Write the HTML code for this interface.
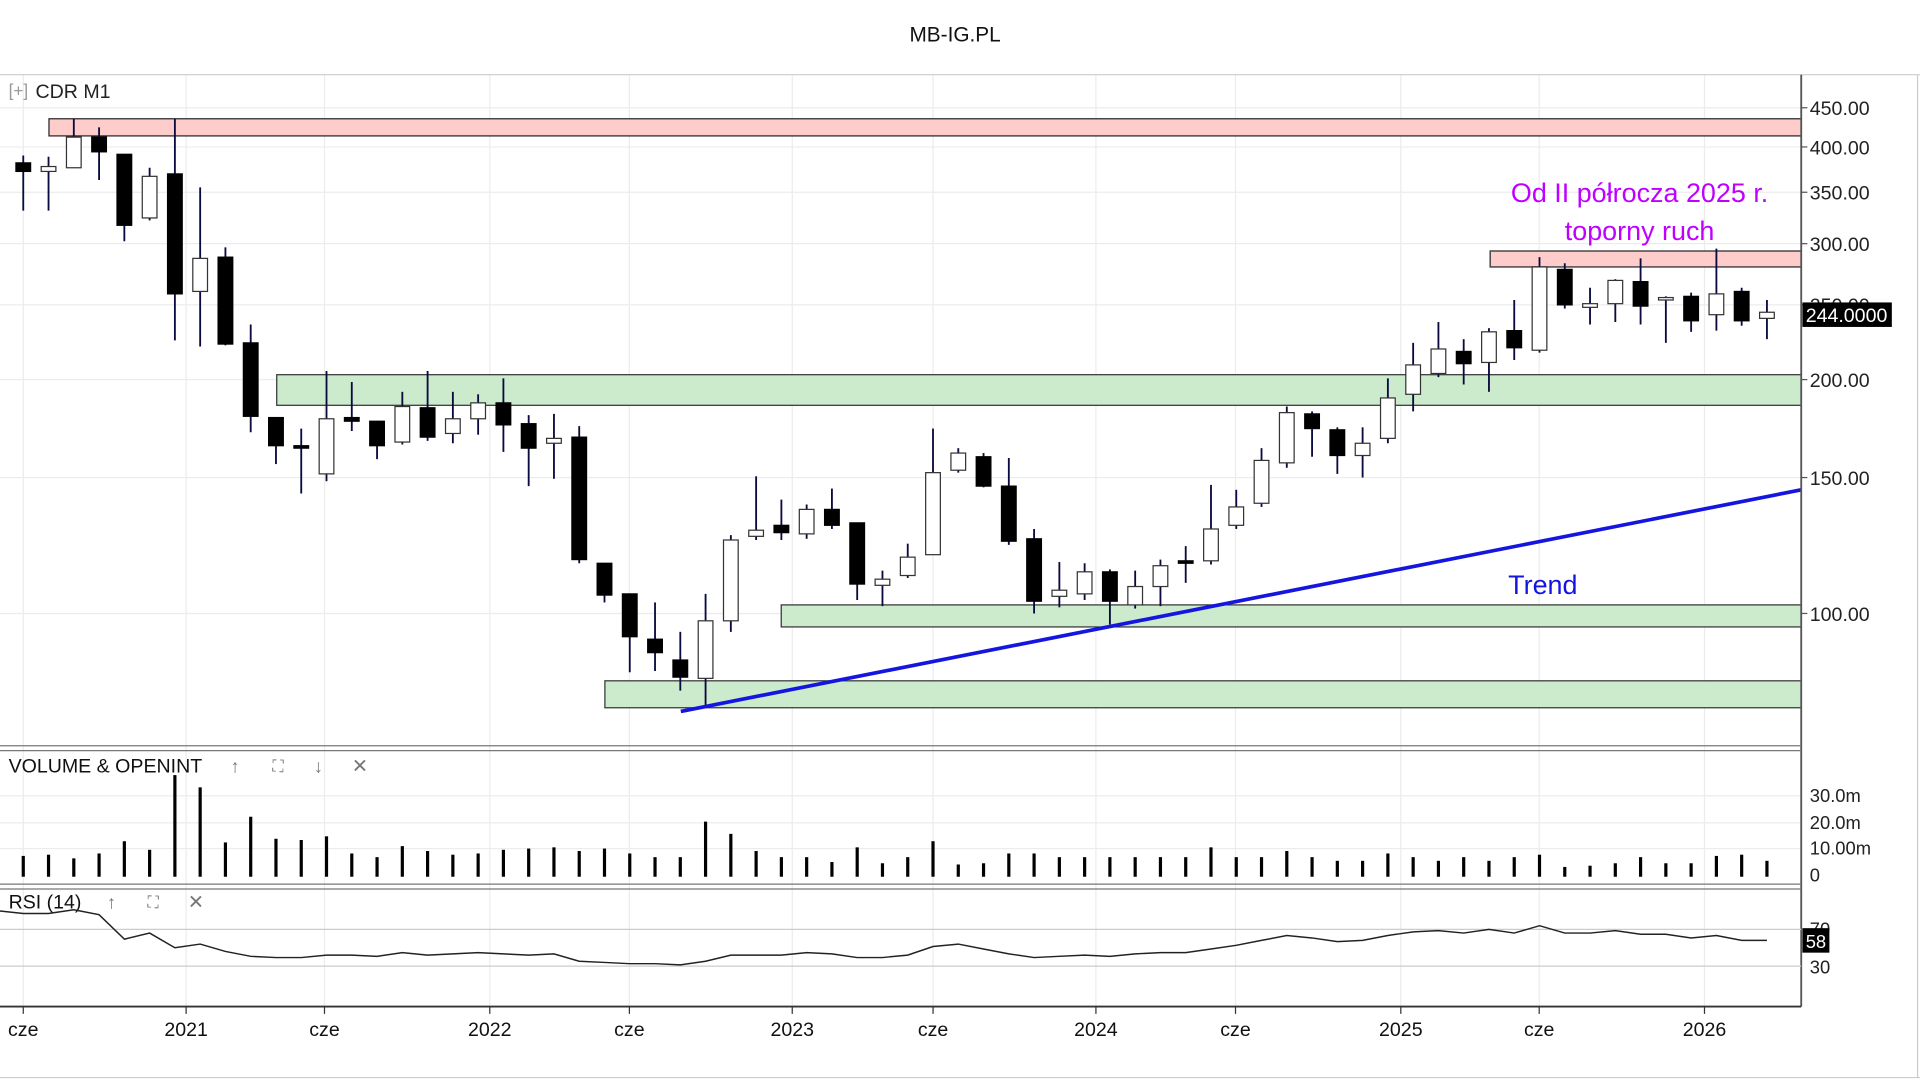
<!DOCTYPE html>
<html><head><meta charset="utf-8"><style>
html,body{margin:0;padding:0;background:#fff;overflow:hidden}
svg{display:block}
text{font-family:"Liberation Sans",Arial,sans-serif}
</style></head><body>
<svg id="s" width="1920" height="1080" viewBox="0 0 1568 882" xmlns="http://www.w3.org/2000/svg">
<rect width="1568" height="882" fill="#fff"/>
<text x="780" y="34" font-size="17" text-anchor="middle" fill="#111">MB-IG.PL</text>
<g id="grid" stroke="#ececec" stroke-width="1"></g>
<!-- frame -->
<line x1="0" y1="61" x2="1568" y2="61" stroke="#ccc"/>
<line x1="1566" y1="61" x2="1566" y2="880" stroke="#ccc"/>
<line x1="0" y1="880" x2="1568" y2="880" stroke="#ccc"/>
<!-- zones -->
<rect x="40" y="97" width="1431" height="14" fill="#ffcccc" stroke="#222" stroke-width="1"/>
<rect x="1217" y="205" width="254" height="13" fill="#ffcccc" stroke="#444" stroke-width="1.2"/>
<rect x="226" y="306" width="1245" height="25" fill="#cceacc" stroke="#333" stroke-width="1"/>
<rect x="638" y="494" width="833" height="18" fill="#cceacc" stroke="#333" stroke-width="1"/>
<rect x="494" y="556" width="977" height="22" fill="#cceacc" stroke="#333" stroke-width="1"/>
<g id="candles"></g>
<line x1="556" y1="581" x2="1471" y2="400" stroke="#1515e0" stroke-width="3"/>
<text x="1339" y="165" font-size="22" text-anchor="middle" fill="#bf00ff">Od II półrocza 2025 r.</text>
<text x="1339" y="196" font-size="22" text-anchor="middle" fill="#bf00ff">toporny ruch</text>
<text x="1260" y="485" font-size="22" text-anchor="middle" fill="#1515e0">Trend</text>
<text x="7" y="79" font-size="14" fill="#999">[+]</text>
<text x="29" y="80" font-size="16" fill="#222">CDR  M1</text>
<!-- axes -->
<line x1="1471" y1="61" x2="1471" y2="822" stroke="#555" stroke-width="1.5"/>
<g id="yax" font-size="16" fill="#222"></g>
<rect x="1472" y="247" width="73" height="20" fill="#000"/>
<text x="1508" y="263" font-size="16" fill="#fff" text-anchor="middle">244.0000</text>
<!-- panel dividers -->
<line x1="0" y1="609" x2="1471" y2="609" stroke="#777"/>
<line x1="0" y1="613" x2="1471" y2="613" stroke="#777"/>
<line x1="0" y1="722" x2="1471" y2="722" stroke="#777"/>
<line x1="0" y1="726" x2="1471" y2="726" stroke="#777"/>
<line x1="0" y1="822" x2="1471" y2="822" stroke="#333" stroke-width="1.5"/>
<text x="7" y="631" font-size="16" fill="#111">VOLUME &amp; OPENINT</text>
<text x="192" y="631" font-size="15" fill="#777" text-anchor="middle">↑</text>
<text x="227" y="630" font-size="13" fill="#777" text-anchor="middle">⛶</text>
<text x="260" y="631" font-size="15" fill="#777" text-anchor="middle">↓</text>
<text x="294" y="631" font-size="16" fill="#777" text-anchor="middle">✕</text>
<text x="7" y="742" font-size="16" fill="#111">RSI (14)</text>
<text x="91" y="742" font-size="15" fill="#777" text-anchor="middle">↑</text>
<text x="125" y="741" font-size="13" fill="#777" text-anchor="middle">⛶</text>
<text x="160" y="742" font-size="16" fill="#777" text-anchor="middle">✕</text>
<g id="vol"></g>
<line x1="0" y1="759" x2="1471" y2="759" stroke="#ccc"/>
<line x1="0" y1="789" x2="1471" y2="789" stroke="#ccc"/>
<polyline id="rsi" fill="none" stroke="#222" stroke-width="1.2"/>
<text x="1478" y="764" font-size="15" fill="#222">70</text>
<text x="1478" y="795" font-size="15" fill="#222">30</text>
<rect x="1472" y="758" width="22" height="20" fill="#000"/>
<text x="1483" y="774" font-size="15" fill="#fff" text-anchor="middle">58</text>
<g id="vax" font-size="15" fill="#222"></g>
<g id="xax" font-size="16" fill="#111"></g>
</svg>
<script>
const NS="http://www.w3.org/2000/svg";
function el(p,t,a,txt){const e=document.createElementNS(NS,t);for(const k in a)e.setAttribute(k,a[k]);if(txt!==undefined)e.textContent=txt;document.getElementById(p).appendChild(e);return e;}
// grid
[19,152,265,400,514,647,762,895,1009,1144,1257,1392].forEach(x=>{el('grid','line',{x1:x,y1:61,x2:x,y2:822});});
[88,120,157,199,249,310,390,501].forEach(y=>el('grid','line',{x1:0,y1:y,x2:1471,y2:y}));
[650,672,693].forEach(y=>el('grid','line',{x1:0,y1:y,x2:1471,y2:y}));
// y axis
[[88,'450.00'],[120,'400.00'],[157,'350.00'],[199,'300.00'],[249,'250.00'],[310,'200.00'],[390,'150.00'],[501,'100.00']].forEach(([y,t])=>{
 el('yax','line',{x1:1471,y1:y,x2:1476,y2:y,stroke:'#555'});el('yax','text',{x:1478,y:y+6},t);});
[[650,'30.0m'],[672,'20.0m'],[693,'10.00m'],[715,'0']].forEach(([y,t])=>{el('vax','text',{x:1478,y:y+5},t);});
// x axis
[[19,'cze'],[152,'2021'],[265,'cze'],[400,'2022'],[514,'cze'],[647,'2023'],[762,'cze'],[895,'2024'],[1009,'cze'],[1144,'2025'],[1257,'cze'],[1392,'2026']].forEach(([x,t])=>{
 el('xax','line',{x1:x,y1:822,x2:x,y2:828,stroke:'#333'});el('xax','text',{x:x,y:846,'text-anchor':'middle'},t);});
// candles: [bodyTop, bodyBot, wickTop, wickBot, black?]
const C=[[133,140,127,172,1],[136,140,128,172,0],[112,137,97,137,0],[112,124,104,147,1],[126,184,126,197,1],[144,178,137,180,0],[142,240,97,278,1],[211,238,153,283,0],[210,281,202,282,1],[280,340,265,353,1],
[341,364,341,379,1],[364,366,350,403,1],[342,387,303,393,0],[341,344,312,352,1],[344,364,344,375,1],[332,361,320,363,0],[333,357,303,360,1],[342,354,320,362,0],[329,342,322,355,0],[329,347,309,369,1],
[346,366,339,397,1],[358,362,338,391,0],[357,457,348,460,1],[460,486,460,492,1],[485,520,485,549,1],[522,533,492,548,1],[539,553,516,564,1],[507,554,485,577,0],[441,507,437,516,0],[433,438,389,441,0],
[429,435,408,441,1],[416,436,412,440,0],[416,429,399,432,1],[427,477,427,490,1],[473,478,466,495,0],[455,470,444,472,0],[386,453,350,453,0],[370,384,366,386,0],[373,397,370,398,1],[397,442,374,445,1],
[440,491,432,501,1],[482,487,459,496,0],[467,485,460,490,0],[467,491,465,510,1],[479,494,466,497,0],[462,479,457,495,0],[458,460,446,476,1],[432,458,396,461,0],[414,429,400,432,0],[376,411,366,414,0],
[337,378,332,382,0],[338,350,336,373,1],[351,372,349,387,1],[362,372,349,390,0],[325,358,309,362,0],[298,322,280,336,0],[285,305,263,308,0],[287,297,277,314,1],[271,296,268,320,0],[270,284,245,294,1],
[218,286,210,288,0],[220,249,215,252,1],[248,251,235,265,0],[229,248,228,263,0],[230,250,211,265,1],[243,245,242,280,0],[242,262,239,271,1],[240,257,203,270,0],[238,262,235,266,1],[255,260,245,277,0]];
const V=[699,698,701,697,687,694,633,643,688,667,685,686,683,697,700,691,695,698,697,694,693,692,695,693,697,700,700,671,681,695,700,700,704,692,705,700,687,706,705,697,697,700,700,700,700,700,700,692,700,700,695,700,703,703,697,700,703,700,703,700,698,708,707,705,700,705,705,699,698,703];
const R=[746,746,743,747,767,762,774,771,777,781,782,782,780,780,781,778,780,779,778,779,780,779,785,786,787,787,788,785,780,780,780,778,779,782,782,780,773,771,775,779,782,781,780,781,779,778,778,775,772,768,764,766,769,768,764,761,760,762,759,762,756,762,762,760,763,763,766,764,768,768];
const X=i=>19+i*(1443-19)/69;
C.forEach((c,i)=>{const x=X(i);
 el('candles','line',{x1:x,y1:c[2],x2:x,y2:c[3],stroke:'#0a0a40','stroke-width':1.5});
 el('candles','rect',{x:x-6,y:c[0],width:12,height:Math.max(2,c[1]-c[0]),fill:c[4]?'#000':'#fff',stroke:c[4]?'#000':'#333','stroke-width':1});
});
V.forEach((v,i)=>{const x=X(i);el('vol','rect',{x:x-1.3,y:v,width:2.6,height:716-v,fill:'#000'});});
let pts='0,744 ';R.forEach((r,i)=>pts+=X(i).toFixed(1)+','+r+' ');
document.getElementById('rsi').setAttribute('points',pts);
</script>
</body></html>
